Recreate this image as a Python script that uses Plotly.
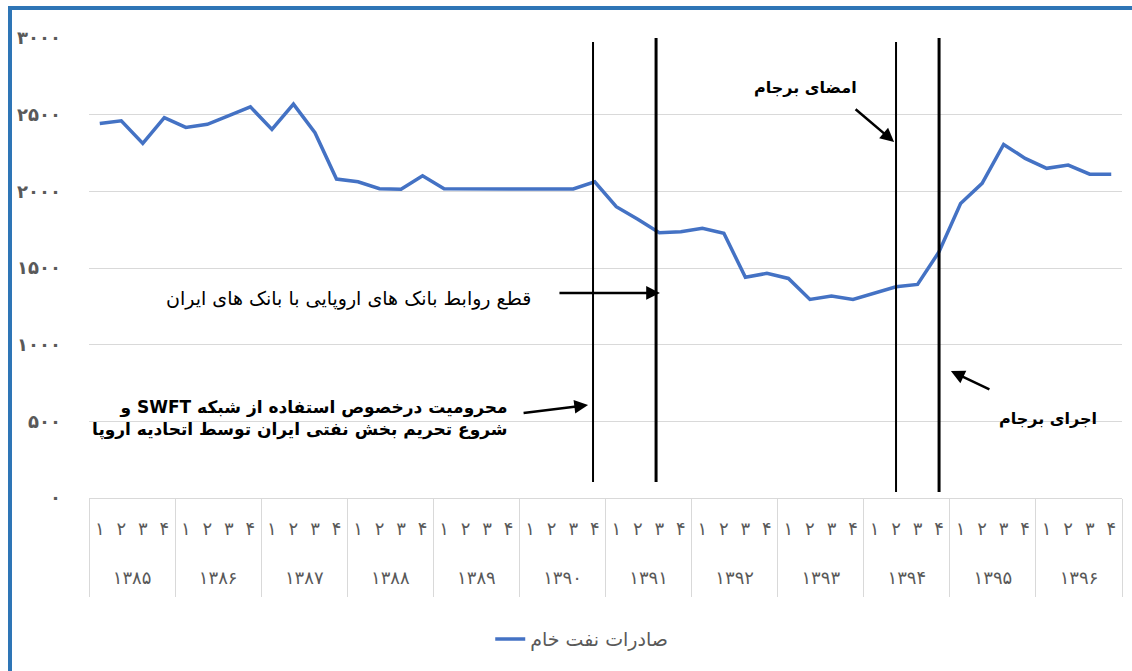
import plotly.graph_objects as go

# ---------------- data ----------------
years = ["۱۳۸۵", "۱۳۸۶", "۱۳۸۷", "۱۳۸۸", "۱۳۸۹", "۱۳۹۰",
         "۱۳۹۱", "۱۳۹۲", "۱۳۹۳", "۱۳۹۴", "۱۳۹۵", "۱۳۹۶"]
quarters = ["۱", "۲", "۳", "۴"]
crude_exports = [
    2443, 2460, 2313, 2480,   # 1385
    2417, 2437, 2493, 2551,   # 1386
    2404, 2569, 2382, 2080,   # 1387
    2062, 2017, 2013, 2101,   # 1388
    2017, 2015, 2015, 2015,   # 1389
    2015, 2015, 2015, 2062,   # 1390
    1900, 1818, 1730, 1737,   # 1391
    1759, 1726, 1440, 1465,   # 1392
    1432, 1295, 1317, 1295,   # 1393
    1339, 1378, 1393, 1606,   # 1394
    1921, 2052, 2306, 2215,   # 1395
    2150, 2171, 2112, 2112,   # 1396
]
y_ticks = [0, 500, 1000, 1500, 2000, 2500, 3000]
y_tick_labels = ["۰", "۵۰۰", "۱۰۰۰", "۱۵۰۰", "۲۰۰۰", "۲۵۰۰", "۳۰۰۰"]
series_name = "صادرات نفت خام"

label_banks = "قطع روابط بانک های اروپایی با بانک های ایران"
label_swift_1 = "\u202Bمحرومیت درخصوص استفاده از شبکه <b>SWFT</b> و\u202C"
label_swift_2 = "شروع تحریم بخش نفتی ایران توسط اتحادیه اروپا"
label_sign = "امضای برجام"
label_impl = "اجرای برجام"

# ---------------- derived positions ----------------
nq = len(quarters)
n = len(years) * nq
x_idx = list(range(n))
quarter_labels = quarters * len(years)
year_centers = [i * nq + (nq - 1) / 2 for i in range(len(years))]
dividers = [i * nq - 0.5 for i in range(len(years) + 1)]
x_range = [-0.5, n - 0.5]

FONT = "DejaVu Sans"
GRAY = "#595959"
GRID = "#D9D9D9"
BLUE = "#4472C4"

fig = go.Figure()
fig.add_trace(go.Scatter(
    x=x_idx, y=crude_exports, mode="lines", name=series_name,
    line=dict(color=BLUE, width=3.5), showlegend=True,
))

# ---------------- layout ----------------
fig.update_layout(
    width=1132, height=671,
    margin=dict(l=89, r=10, t=38, b=173),
    paper_bgcolor="white", plot_bgcolor="white",
    font=dict(family=FONT, color=GRAY, size=17),
    showlegend=True,
    legend=dict(orientation="h", x=0.477, xanchor="center", y=-0.307,
                yanchor="middle", font=dict(size=19, color=GRAY),
                bgcolor="rgba(0,0,0,0)"),
    xaxis=dict(range=x_range, tickmode="array", tickvals=x_idx,
               ticktext=quarter_labels, showgrid=False, zeroline=False,
               showline=True, linecolor=GRID, linewidth=1,
               ticks="", ticklabelstandoff=14,
               tickfont=dict(size=18, color=GRAY, family=FONT)),
    xaxis2=dict(range=x_range, overlaying="x", anchor="y", side="bottom",
                tickmode="array", tickvals=year_centers, ticktext=years,
                showgrid=False, zeroline=False, showline=False, ticks="",
                ticklabelstandoff=67,
                tickfont=dict(size=18, color=GRAY, family=FONT)),
    xaxis3=dict(range=x_range, overlaying="x", anchor="y", side="bottom",
                tickmode="array", tickvals=dividers, showticklabels=False,
                showgrid=False, zeroline=False, showline=False,
                ticks="outside", ticklen=98, tickcolor=GRID, tickwidth=1),
    yaxis=dict(range=[0, 3000], tickmode="array", tickvals=y_ticks,
               ticktext=["<b>" + t + "</b>" for t in y_tick_labels],
               showgrid=True, gridcolor=GRID,
               gridwidth=1, zeroline=False, showline=False, ticks="",
               ticklabelstandoff=27,
               tickfont=dict(size=18, color=GRAY, family=FONT)),
)

# helper traces so overlay axes render
fig.add_trace(go.Scatter(x=[x_range[0]], y=[None], xaxis="x2", yaxis="y",
                         showlegend=False, hoverinfo="skip"))
fig.add_trace(go.Scatter(x=[x_range[0]], y=[None], xaxis="x3", yaxis="y",
                         showlegend=False, hoverinfo="skip"))

# ---------------- event lines ----------------
event_lines = [  # (x index position, y bottom, y top, width)
    (22.92, 104, 2974, 2),
    (25.85, 104, 3013, 3),
    (37.00, 39, 2974, 2),
    (39.00, 39, 3000, 3),
]
for xv, y0, y1, w in event_lines:
    fig.add_shape(type="line", xref="x", yref="y", x0=xv, x1=xv, y0=y0, y1=y1,
                  line=dict(color="black", width=w))

# ---------------- arrows ----------------
arrows = [  # head x (index), head y (value), ax, ay
    (26.03, 1337, -102, 0),
    (22.69, 606, -66, 8),
    (36.91, 2322, -40, -34),
    (39.55, 828, 40, 19),
]
for hx, hy, ax, ay in arrows:
    fig.add_annotation(x=hx, y=hy, xref="x", yref="y", ax=ax, ay=ay,
                       text="", showarrow=True, arrowhead=2, arrowsize=1.1,
                       arrowwidth=2.5, arrowcolor="black")

# ---------------- texts ----------------
fig.add_annotation(x=533, y=298, xref="paper", yref="paper", text=label_banks,
                   showarrow=False, font=dict(family=FONT, size=19, color="black"),
                   xanchor="right", yanchor="middle")
fig.add_annotation(x=510, y=418, xref="paper", yref="paper",
                   text="<b>" + label_swift_1 + "<br>" + label_swift_2 + "</b>",
                   align="right",
                   showarrow=False, font=dict(family=FONT, size=17, color="black"),
                   xanchor="right", yanchor="middle")
fig.add_annotation(x=805, y=87, xref="paper", yref="paper", text="<b>" + label_sign + "</b>",
                   showarrow=False, font=dict(family=FONT, size=16, color="black"),
                   xanchor="center", yanchor="middle")
fig.add_annotation(x=1048, y=418, xref="paper", yref="paper", text="<b>" + label_impl + "</b>",
                   showarrow=False, font=dict(family=FONT, size=16, color="black"),
                   xanchor="center", yanchor="middle")

# convert pixel positions of text annotations to paper coords
L, T, PW, PH = 89, 38, 1033, 460
for a in fig.layout.annotations:
    if a.xref == "paper" and a.x > 2:
        a.x = (a.x - L) / PW
        a.y = (T + PH - a.y) / PH

# ---------------- frame ----------------
def px_x(p):
    return (p - L) / PW

def px_y(p):
    return (T + PH - p) / PH

frame = "#2E75B6"
fig.add_shape(type="line", xref="paper", yref="paper", x0=px_x(8), x1=px_x(1132),
              y0=px_y(8), y1=px_y(8), line=dict(color=frame, width=4))
fig.add_shape(type="line", xref="paper", yref="paper", x0=px_x(10), x1=px_x(10),
              y0=px_y(6), y1=px_y(671), line=dict(color=frame, width=4))

fig.write_html("out.html", config={"displayModeBar": False},
               post_script="document.body.style.margin='0';document.body.style.overflow='hidden';")
